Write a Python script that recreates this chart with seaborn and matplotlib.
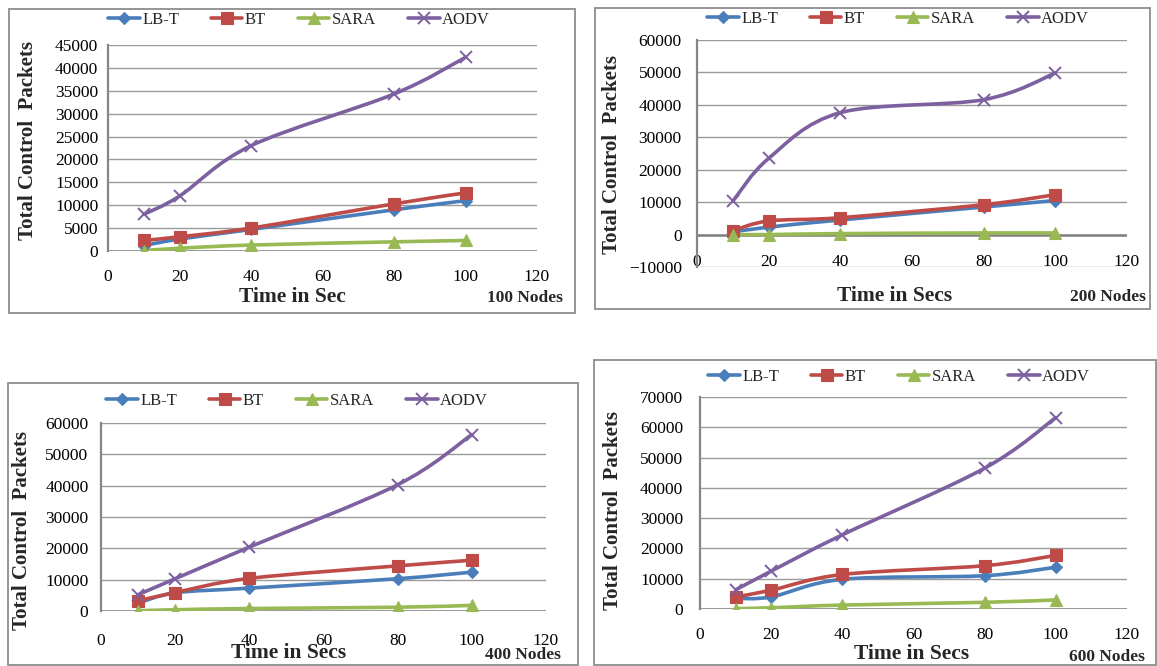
import numpy as np
import pandas as pd
import matplotlib
matplotlib.use("Agg")
import matplotlib.pyplot as plt
import seaborn as sns
from matplotlib.path import Path
from matplotlib.patches import PathPatch, Rectangle
from matplotlib.lines import Line2D

# ---------------- data ----------------
time_s = [10, 20, 40, 80, 100]
series_names = ["LB-T", "BT", "SARA", "AODV"]

lbt_100 = [1200, 2600, 4700, 9000, 11000]
bt_100 = [2300, 3100, 5000, 10300, 12700]
sara_100 = [100, 600, 1300, 2000, 2300]
aodv_100 = [8000, 12000, 23000, 34300, 42300]

lbt_200 = [800, 2300, 4500, 8500, 10500]
bt_200 = [1200, 4200, 5200, 9200, 12300]
sara_200 = [0, 0, 300, 500, 500]
aodv_200 = [10300, 23500, 37600, 41600, 49800]

lbt_400 = [2500, 5800, 7300, 10300, 12400]
bt_400 = [3200, 5900, 10400, 14400, 16200]
sara_400 = [100, 400, 800, 1200, 1800]
aodv_400 = [5200, 10300, 20400, 40300, 56300]

lbt_600 = [3500, 4000, 9800, 11000, 13800]
bt_600 = [4000, 6200, 11400, 14300, 17700]
sara_600 = [100, 400, 1300, 2200, 3000]
aodv_600 = [6300, 12500, 24500, 46500, 63200]

panel_titles = ["100 Nodes", "200 Nodes", "400 Nodes", "600 Nodes"]
xlabels = ["Time in Sec", "Time in Secs", "Time in Secs", "Time in Secs"]
ylabel = "Total Control  Packets"
panel_data = [
    [lbt_100, bt_100, sara_100, aodv_100],
    [lbt_200, bt_200, sara_200, aodv_200],
    [lbt_400, bt_400, sara_400, aodv_400],
    [lbt_600, bt_600, sara_600, aodv_600],
]
y_limits = [(0, 45000, 5000), (-10000, 60000, 10000), (0, 60000, 10000), (0, 70000, 10000)]
x_ticks = [0, 20, 40, 60, 80, 100, 120]

# ---------------- style ----------------
colors = ["#4A7EBB", "#BE4B48", "#98B954", "#7D60A0"]
markers = ["D", "s", "^", "x"]
msizes = [6.5, 8, 8.5, 8.5]

sns.set_theme(style="white")
plt.rcParams["font.family"] = ["Liberation Serif", "DejaVu Serif"]

W, H = 1157, 666
fig = plt.figure(figsize=(W / 100, H / 100), dpi=100)

def fx(px):
    return px / W

def fy(py):
    return 1 - py / H

# pixel layouts: axes (left, right, top, bottom), frame (l, r, t, b)
axes_px = [(108, 537, 45, 251), (697, 1127, 40, 267), (101, 546, 423, 611), (700, 1127, 397, 609)]
frame_px = [(9, 575, 9, 313), (595, 1150, 8, 309), (8, 578, 383, 665), (594, 1156, 360, 665)]
legend_px = [(299, 20), (898, 19), (297, 401), (899, 377)]
ylabel_px = [(28, 140), (612, 155), (22, 530), (613, 511)]
xlabel_px = [(292, 297), (895, 296), (289, 653), (912, 654)]
nodes_px = [(525, 298), (1108, 297), (523, 655), (1107, 657)]
xpad = [13, -9, 16, 13]
ypad = [7, 11, 9, 12]


def smooth_path(xs, ys):
    xs = np.asarray(xs, float)
    ys = np.asarray(ys, float)
    n = len(xs)
    verts = [(xs[0], ys[0])]
    codes = [Path.MOVETO]
    for i in range(n - 1):
        i0 = max(i - 1, 0)
        i3 = min(i + 2, n - 1)
        c1 = (xs[i] + (xs[i + 1] - xs[i0]) / 6, ys[i] + (ys[i + 1] - ys[i0]) / 6)
        c2 = (xs[i + 1] - (xs[i3] - xs[i]) / 6, ys[i + 1] - (ys[i3] - ys[i]) / 6)
        verts += [c1, c2, (xs[i + 1], ys[i + 1])]
        codes += [Path.CURVE4] * 3
    return Path(verts, codes)


for k in range(4):
    l, r, t, b = axes_px[k]
    ax = fig.add_axes([fx(l), fy(b), fx(r) - fx(l), fy(t) - fy(b)])
    df = pd.DataFrame({"time": time_s * 4,
                       "value": sum(panel_data[k], []),
                       "series": sum([[s] * len(time_s) for s in series_names], [])})
    ymin, ymax, ystep = y_limits[k]
    for j, name in enumerate(series_names):
        sub = df[df["series"] == name]
        patch = PathPatch(smooth_path(sub["time"], sub["value"]), fill=False,
                          edgecolor=colors[j], lw=2.6, zorder=3, capstyle="round",
                          joinstyle="round")
        ax.add_patch(patch)
        sns.lineplot(data=sub, x="time", y="value", ax=ax, color=colors[j],
                     marker=markers[j], markersize=msizes[j], linestyle="",
                     markeredgecolor=colors[j], markeredgewidth=1.4 if markers[j] == "x" else 0.8,
                     zorder=4, legend=False)
    ax.set_xlim(0, 120)
    ax.set_ylim(ymin, ymax)
    ax.set_xticks(x_ticks)
    ax.set_yticks(np.arange(ymin, ymax + 1, ystep))
    ax.yaxis.grid(True, color="#9a9a9a", lw=1.0)
    ax.xaxis.grid(False)
    ax.set_axisbelow(True)
    for s in ["top", "right", "bottom"]:
        ax.spines[s].set_visible(False)
    ax.spines["left"].set_color("#868686")
    ax.spines["left"].set_linewidth(1.6)
    ax.axhline(0, color="#808080", lw=1.8, zorder=2)
    ax.tick_params(axis="both", length=0, labelsize=12.5, colors="black")
    ax.tick_params(axis="x", pad=xpad[k])
    ax.tick_params(axis="y", pad=ypad[k])
    ax.set_xlabel("")
    ax.set_ylabel("")

    handles = [Line2D([], [], color=colors[j], lw=2.6, marker=markers[j],
                      markersize=msizes[j], markeredgewidth=1.4 if markers[j] == "x" else 0.8)
               for j in range(4)]
    lx, ly = legend_px[k]
    fig.legend(handles, series_names, loc="center", bbox_to_anchor=(fx(lx), fy(ly)),
               ncol=4, frameon=False, fontsize=12, handlelength=1.9, handletextpad=0.15,
               columnspacing=1.9, borderpad=0)

    yx, yy = ylabel_px[k]
    fig.text(fx(yx), fy(yy), ylabel, rotation=90, ha="center", va="center",
             fontsize=15, fontweight="bold")
    xx, xy = xlabel_px[k]
    fig.text(fx(xx), fy(xy), xlabels[k], ha="center", va="center",
             fontsize=15.5, fontweight="bold")
    nx, ny = nodes_px[k]
    fig.text(fx(nx), fy(ny), panel_titles[k], ha="center", va="center",
             fontsize=12.5, fontweight="bold")

    fl, fr, ft, fb = frame_px[k]
    fig.patches.append(Rectangle((fx(fl), fy(fb)), fx(fr) - fx(fl), fy(ft) - fy(fb),
                                 transform=fig.transFigure, fill=False,
                                 edgecolor="#8c8c8c", lw=1.3))

fig.savefig("out.png", dpi=100)
